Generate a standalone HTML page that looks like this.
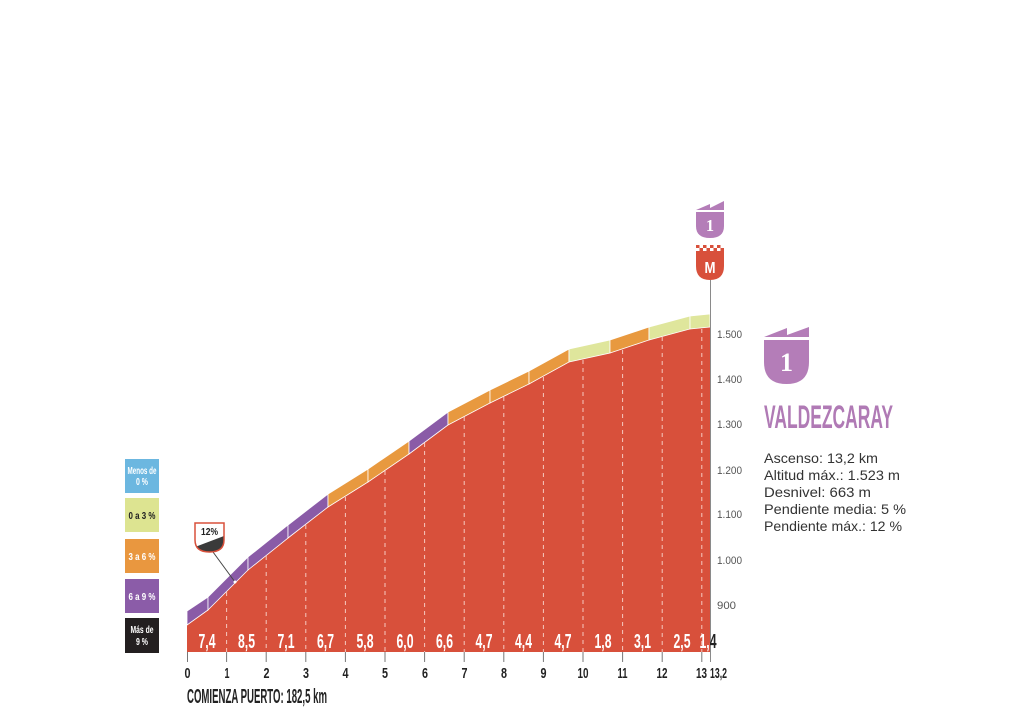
<!DOCTYPE html>
<html><head><meta charset="utf-8"><style>
html,body{margin:0;padding:0;background:#fff;}
svg{display:block;}
</style></head><body>
<svg width="1024" height="724" viewBox="0 0 1024 724" xmlns="http://www.w3.org/2000/svg" font-family="'Liberation Sans', sans-serif">
<defs>
<clipPath id="redclip"><rect x="187" y="0" width="523" height="724"/></clipPath>
<clipPath id="outclip"><rect x="710" y="0" width="300" height="724"/></clipPath>
<clipPath id="shield12"><path d="M195,523 L224,523 L224,540 Q224,552 209.5,552 Q195,552 195,540 Z"/></clipPath>
</defs>

<!-- red profile -->
<polygon fill="#d8503b" points="187,652 187,625 208,610 248,570 288,538 328,507 368,482 409,454 448,425 490,403 529,384 569,362 610,353 649,340 690,329 710,327 710,652"/>

<!-- bands -->
<g stroke="#fff" stroke-width="0.8">
<polygon fill="#8a5ba7" points="187,625 208,610 208,597 187,611"/>
<polygon fill="#8a5ba7" points="208,610 248,570 248,557 208,597"/>
<polygon fill="#8a5ba7" points="248,570 288,538 288,525 248,557"/>
<polygon fill="#8a5ba7" points="288,538 328,507 328,494 288,525"/>
<polygon fill="#e8993f" points="328,507 368,482 368,469 328,494"/>
<polygon fill="#e8993f" points="368,482 409,454 409,441 368,469"/>
<polygon fill="#8a5ba7" points="409,454 448,425 448,412 409,441"/>
<polygon fill="#e8993f" points="448,425 490,403 490,390 448,412"/>
<polygon fill="#e8993f" points="490,403 529,384 529,371 490,390"/>
<polygon fill="#e8993f" points="529,384 569,362 569,349 529,371"/>
<polygon fill="#dfe69c" points="569,362 610,353 610,340 569,349"/>
<polygon fill="#e8993f" points="610,353 649,340 649,327 610,340"/>
<polygon fill="#dfe69c" points="649,340 690,329 690,316 649,327"/>
<polygon fill="#dfe69c" points="690,329 710,327 710,314 690,316"/>
</g>

<!-- dashed km lines -->
<g stroke="#f6c9bf" stroke-width="1" stroke-dasharray="4 4">
<line x1="226.6" y1="592" x2="226.6" y2="652"/>
<line x1="266.2" y1="556" x2="266.2" y2="652"/>
<line x1="305.8" y1="525" x2="305.8" y2="652"/>
<line x1="345.4" y1="497" x2="345.4" y2="652"/>
<line x1="385" y1="471" x2="385" y2="652"/>
<line x1="424.6" y1="443" x2="424.6" y2="652"/>
<line x1="464.2" y1="417" x2="464.2" y2="652"/>
<line x1="503.8" y1="397" x2="503.8" y2="652"/>
<line x1="543.4" y1="377" x2="543.4" y2="652"/>
<line x1="583" y1="360" x2="583" y2="652"/>
<line x1="622.6" y1="350" x2="622.6" y2="652"/>
<line x1="662.2" y1="337" x2="662.2" y2="652"/>
<line x1="701.8" y1="329" x2="701.8" y2="652"/>
</g>

<!-- axis line -->
<line x1="710.5" y1="280" x2="710.5" y2="662" stroke="#8a8a8a" stroke-width="1"/>

<!-- bottom ticks -->
<g stroke="#777" stroke-width="1">
<line x1="187.5" y1="652" x2="187.5" y2="662"/>
<line x1="226.6" y1="652" x2="226.6" y2="662"/>
<line x1="266.2" y1="652" x2="266.2" y2="662"/>
<line x1="305.8" y1="652" x2="305.8" y2="662"/>
<line x1="345.4" y1="652" x2="345.4" y2="662"/>
<line x1="385" y1="652" x2="385" y2="662"/>
<line x1="424.6" y1="652" x2="424.6" y2="662"/>
<line x1="464.2" y1="652" x2="464.2" y2="662"/>
<line x1="503.8" y1="652" x2="503.8" y2="662"/>
<line x1="543.4" y1="652" x2="543.4" y2="662"/>
<line x1="583" y1="652" x2="583" y2="662"/>
<line x1="622.6" y1="652" x2="622.6" y2="662"/>
<line x1="662.2" y1="652" x2="662.2" y2="662"/>
<line x1="701.8" y1="652" x2="701.8" y2="662"/>
</g>

<!-- gradient numbers -->
<g fill="#fff" font-weight="bold" font-size="20" text-anchor="middle">
<text x="207" y="648" textLength="17" lengthAdjust="spacingAndGlyphs">7,4</text>
<text x="246.5" y="648" textLength="17" lengthAdjust="spacingAndGlyphs">8,5</text>
<text x="286" y="648" textLength="17" lengthAdjust="spacingAndGlyphs">7,1</text>
<text x="325.5" y="648" textLength="17" lengthAdjust="spacingAndGlyphs">6,7</text>
<text x="365" y="648" textLength="17" lengthAdjust="spacingAndGlyphs">5,8</text>
<text x="405" y="648" textLength="17" lengthAdjust="spacingAndGlyphs">6,0</text>
<text x="444.5" y="648" textLength="17" lengthAdjust="spacingAndGlyphs">6,6</text>
<text x="484" y="648" textLength="17" lengthAdjust="spacingAndGlyphs">4,7</text>
<text x="523.5" y="648" textLength="17" lengthAdjust="spacingAndGlyphs">4,4</text>
<text x="563" y="648" textLength="17" lengthAdjust="spacingAndGlyphs">4,7</text>
<text x="603" y="648" textLength="17" lengthAdjust="spacingAndGlyphs">1,8</text>
<text x="642.5" y="648" textLength="17" lengthAdjust="spacingAndGlyphs">3,1</text>
<text x="682" y="648" textLength="17" lengthAdjust="spacingAndGlyphs">2,5</text>
</g>
<text x="708" y="648" fill="#fff" font-weight="bold" font-size="20" text-anchor="middle" textLength="17" lengthAdjust="spacingAndGlyphs" clip-path="url(#redclip)">1,4</text>
<text x="708" y="648" fill="#222" font-weight="bold" font-size="20" text-anchor="middle" textLength="17" lengthAdjust="spacingAndGlyphs" clip-path="url(#outclip)">1,4</text>

<!-- km labels -->
<g fill="#222" font-weight="bold" font-size="15" text-anchor="middle">
<text x="187.5" y="678" textLength="6" lengthAdjust="spacingAndGlyphs">0</text>
<text x="227" y="678" textLength="5" lengthAdjust="spacingAndGlyphs">1</text>
<text x="266.5" y="678" textLength="6" lengthAdjust="spacingAndGlyphs">2</text>
<text x="306" y="678" textLength="6" lengthAdjust="spacingAndGlyphs">3</text>
<text x="345.5" y="678" textLength="6" lengthAdjust="spacingAndGlyphs">4</text>
<text x="385" y="678" textLength="6" lengthAdjust="spacingAndGlyphs">5</text>
<text x="425" y="678" textLength="6" lengthAdjust="spacingAndGlyphs">6</text>
<text x="464.5" y="678" textLength="6" lengthAdjust="spacingAndGlyphs">7</text>
<text x="504" y="678" textLength="6" lengthAdjust="spacingAndGlyphs">8</text>
<text x="543.5" y="678" textLength="6" lengthAdjust="spacingAndGlyphs">9</text>
<text x="583" y="678" textLength="11" lengthAdjust="spacingAndGlyphs">10</text>
<text x="622.5" y="678" textLength="10" lengthAdjust="spacingAndGlyphs">11</text>
<text x="662" y="678" textLength="11" lengthAdjust="spacingAndGlyphs">12</text>
<text x="701.5" y="678" textLength="11" lengthAdjust="spacingAndGlyphs">13</text>
<text x="710" y="678" text-anchor="start" textLength="17" lengthAdjust="spacingAndGlyphs">13,2</text>
</g>
<text x="187" y="703" fill="#222" font-weight="bold" font-size="20" textLength="140" lengthAdjust="spacingAndGlyphs">COMIENZA PUERTO: 182,5 km</text>

<!-- y axis labels -->
<g fill="#555" font-size="11">
<text x="717" y="338" textLength="25" lengthAdjust="spacingAndGlyphs">1.500</text>
<text x="717" y="383" textLength="25" lengthAdjust="spacingAndGlyphs">1.400</text>
<text x="717" y="428" textLength="25" lengthAdjust="spacingAndGlyphs">1.300</text>
<text x="717" y="474" textLength="25" lengthAdjust="spacingAndGlyphs">1.200</text>
<text x="717" y="518" textLength="25" lengthAdjust="spacingAndGlyphs">1.100</text>
<text x="717" y="564" textLength="25" lengthAdjust="spacingAndGlyphs">1.000</text>
<text x="717" y="609" textLength="19" lengthAdjust="spacingAndGlyphs">900</text>
</g>

<!-- top badges -->
<path d="M696,210 L710,204 L710,208 L724,201 L724,210 Z" fill="#b47db8"/>
<path d="M696,212 L724,212 L724,226 Q724,238 710,238 Q696,238 696,226 Z" fill="#b47db8"/>
<text x="710" y="231" fill="#fff" font-size="17" font-weight="bold" text-anchor="middle" font-family="'Liberation Serif', serif" textLength="8" lengthAdjust="spacingAndGlyphs">1</text>

<g fill="#d8503b">
<rect x="696" y="245" width="3.5" height="3"/><rect x="703" y="245" width="3.5" height="3"/><rect x="710" y="245" width="3.5" height="3"/><rect x="717" y="245" width="3.5" height="3"/>
<rect x="699.5" y="248" width="3.5" height="3"/><rect x="706.5" y="248" width="3.5" height="3"/><rect x="713.5" y="248" width="3.5" height="3"/><rect x="720.5" y="248" width="3.5" height="3"/>
<path d="M696,251 L724,251 L724,266 Q724,280 710,280 Q696,280 696,266 Z"/>
</g>
<text x="710" y="273" fill="#fff" font-size="16" font-weight="bold" text-anchor="middle" textLength="11" lengthAdjust="spacingAndGlyphs">M</text>

<!-- big badge -->
<path d="M764,337 L787,328 L787,335 L809,327 L809,337 Z" fill="#b47db8"/>
<path d="M764,340 L809,340 L809,362 Q809,384 786.5,384 Q764,384 764,362 Z" fill="#b47db8"/>
<text x="786.5" y="371" fill="#fff" font-size="26" font-weight="bold" text-anchor="middle" font-family="'Liberation Serif', serif" textLength="13" lengthAdjust="spacingAndGlyphs">1</text>

<text x="764" y="428" fill="#b07ab5" font-weight="bold" font-size="32" textLength="129" lengthAdjust="spacingAndGlyphs">VALDEZCARAY</text>

<g fill="#333" font-size="14">
<text x="764" y="463" textLength="114" lengthAdjust="spacingAndGlyphs">Ascenso: 13,2 km</text>
<text x="764" y="480" textLength="136" lengthAdjust="spacingAndGlyphs">Altitud máx.: 1.523 m</text>
<text x="764" y="497" textLength="107" lengthAdjust="spacingAndGlyphs">Desnivel: 663 m</text>
<text x="764" y="514" textLength="142" lengthAdjust="spacingAndGlyphs">Pendiente media: 5 %</text>
<text x="764" y="531" textLength="138" lengthAdjust="spacingAndGlyphs">Pendiente máx.: 12 %</text>
</g>

<!-- legend -->
<rect x="125" y="459" width="34" height="34" fill="#6cb7e0"/>
<rect x="125" y="498" width="34" height="34" fill="#dde491"/>
<rect x="125" y="539" width="34" height="34" fill="#e9973f"/>
<rect x="125" y="579" width="34" height="34" fill="#8b5ca8"/>
<rect x="125" y="618" width="34" height="35" fill="#231f20"/>
<g font-weight="bold" font-size="10" text-anchor="middle">
<text x="142" y="474" fill="#fff" textLength="29" lengthAdjust="spacingAndGlyphs">Menos de</text>
<text x="142" y="485" fill="#fff" textLength="12" lengthAdjust="spacingAndGlyphs">0 %</text>
<text x="142" y="519" fill="#222" textLength="27" lengthAdjust="spacingAndGlyphs">0 a 3 %</text>
<text x="142" y="560" fill="#fff" textLength="27" lengthAdjust="spacingAndGlyphs">3 a 6 %</text>
<text x="142" y="600" fill="#fff" textLength="27" lengthAdjust="spacingAndGlyphs">6 a 9 %</text>
<text x="142" y="633" fill="#fff" textLength="23" lengthAdjust="spacingAndGlyphs">Más de</text>
<text x="142" y="645" fill="#fff" textLength="12" lengthAdjust="spacingAndGlyphs">9 %</text>
</g>

<!-- 12% marker -->
<line x1="213" y1="552" x2="235" y2="582" stroke="#444" stroke-width="1"/>
<circle cx="235" cy="582" r="1.5" fill="#fff"/>
<path d="M195,523 L224,523 L224,540 Q224,552 209.5,552 Q195,552 195,540 Z" fill="#fff"/>
<polygon points="195,547 224,536 224,560 195,560" fill="#3a3a3a" clip-path="url(#shield12)"/>
<path d="M195,523 L224,523 L224,540 Q224,552 209.5,552 Q195,552 195,540 Z" fill="none" stroke="#d8503b" stroke-width="1.5"/>
<text x="209.5" y="535" fill="#222" font-weight="bold" font-size="10" text-anchor="middle" textLength="17" lengthAdjust="spacingAndGlyphs">12%</text>
</svg>
</body></html>
